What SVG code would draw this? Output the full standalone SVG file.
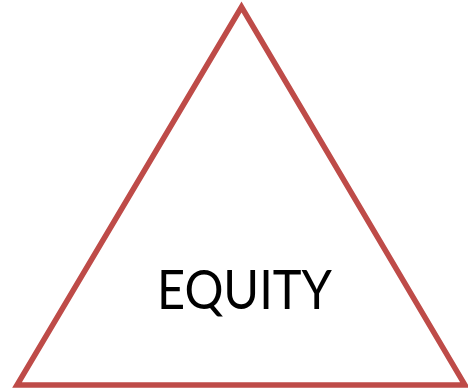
<svg xmlns="http://www.w3.org/2000/svg" width="468" height="388" viewBox="0 0 468 388">
<style>
.tri{fill:#ffffff;stroke:#be4b48;stroke-width:5.5;stroke-linejoin:miter}
.lbl{font-family:Lato,"Open Sans",sans-serif;font-size:54px;fill:#000000;text-anchor:middle}
</style>
<rect width="468" height="388" fill="#ffffff"/>
<g id="equity">
<polygon class="tri" points="241.5,7 17,385 465,385"/>
<text class="lbl" x="244.5" y="309" textLength="175" lengthAdjust="spacingAndGlyphs">EQUITY</text>
</g>
<g id="connectors"/>
</svg>
